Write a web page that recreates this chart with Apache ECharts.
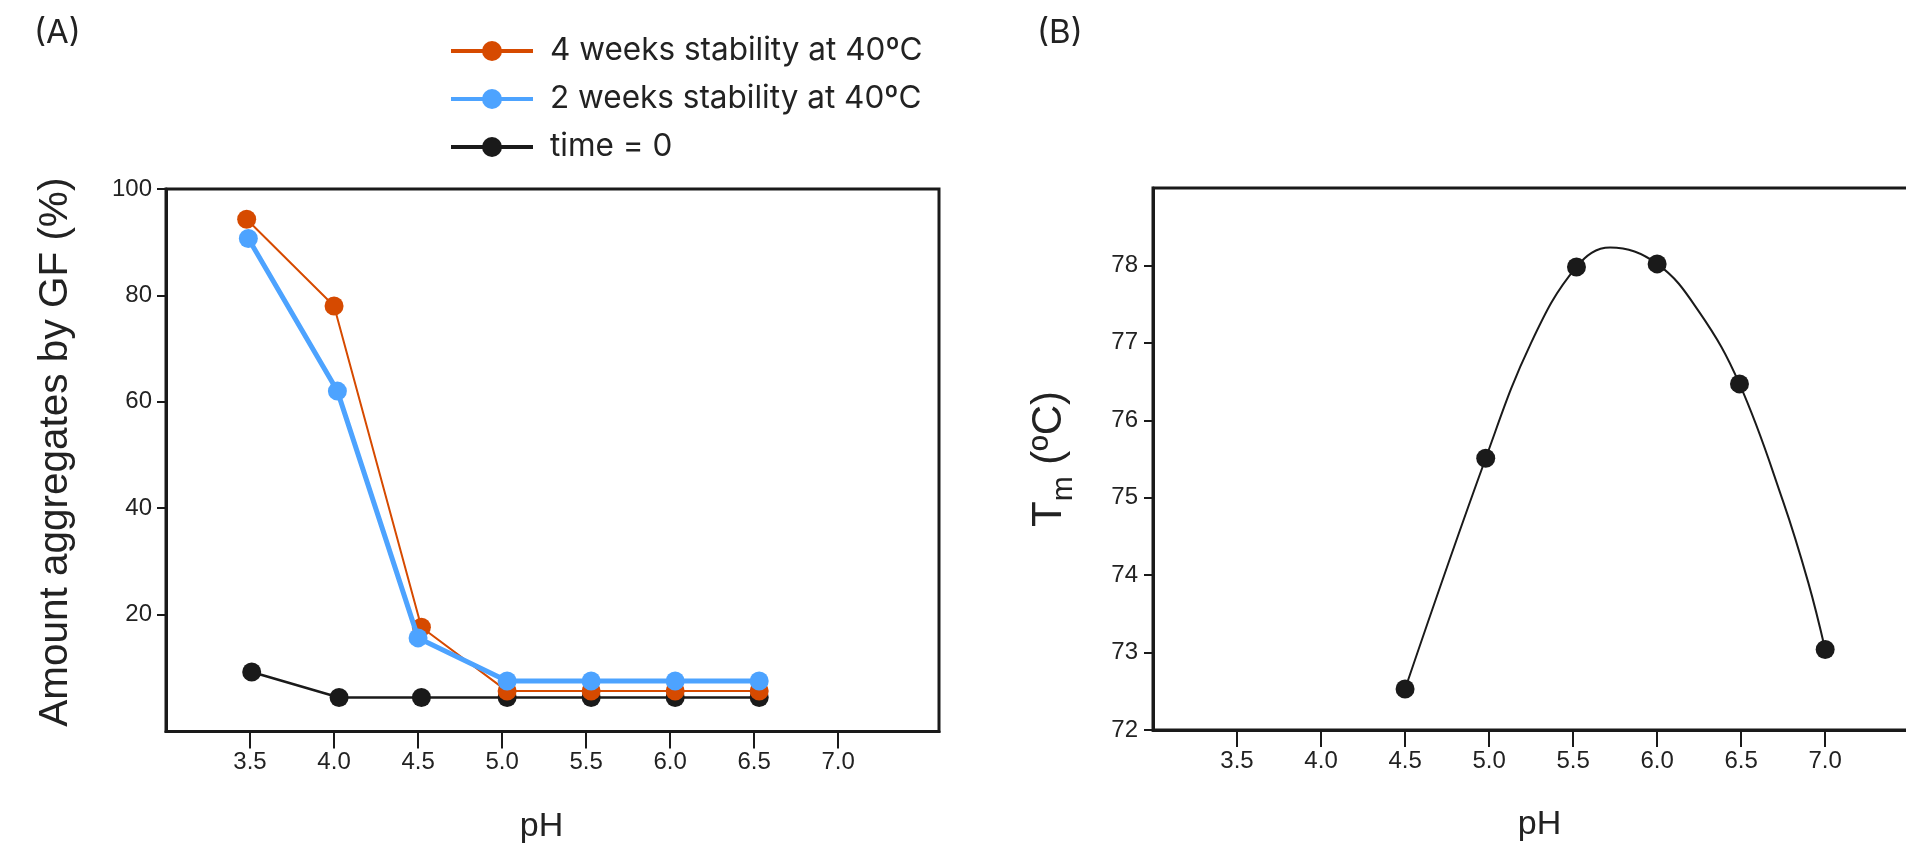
<!DOCTYPE html>
<html><head><meta charset="utf-8">
<script src="https://cdn.jsdelivr.net/npm/echarts@6/dist/echarts.min.js"></script>
<style>html,body{margin:0;padding:0;background:#fff}#c{width:1906px;height:853px}</style>
</head><body><div id="c"></div>
<script>
// ---- data ----
const phTicks = [3.5, 4.0, 4.5, 5.0, 5.5, 6.0, 6.5, 7.0];
const aggTicks = [20, 40, 60, 80, 100];
const tmTicks = [72, 73, 74, 75, 76, 77, 78];

const seriesNames = ['4 weeks stability at 40ºC', '2 weeks stability at 40ºC', 'time = 0'];
const ph4w  = [3.48, 4.00, 4.52, 5.03, 5.53, 6.03, 6.53];
const agg4w = [94.3, 78.0, 17.6, 5.6, 5.6, 5.6, 5.6];
const ph2w  = [3.49, 4.02, 4.50, 5.03, 5.53, 6.03, 6.53];
const agg2w = [90.7, 62.0, 15.6, 7.5, 7.5, 7.5, 7.5];
const ph0   = [3.51, 4.03, 4.52, 5.03, 5.53, 6.03, 6.53];
const agg0  = [9.2, 4.4, 4.4, 4.4, 4.4, 4.4, 4.4];

// panel B: measured Tm points
const phTm = [4.50, 4.98, 5.52, 6.00, 6.49, 7.00];
const tm   = [72.53, 75.51, 77.98, 78.02, 76.47, 73.04];
// panel B: fitted curve
const phCurve = [4.50, 4.98, 5.25, 5.52, 5.72, 6.00, 6.25, 6.49, 6.75, 6.90, 7.00];
const tmCurve = [72.53, 75.51, 77.00, 77.98, 78.23, 78.02, 77.40, 76.47, 74.95, 73.90, 73.04];

// ---- helpers ----
const zip = (xs, ys) => xs.map((x, i) => [x, ys[i]]);
const INK = '#1a1a1a';
const TXT = '#222';
const TICKFONT = 'Liberation Sans';
const LEGFONT = 'Inter';

function xAxisCfg(gridIndex) {
  return {
    type: 'value', gridIndex, min: 3.0, max: 7.6,
    splitLine: { show: false },
    axisLine: { show: true, onZero: false, lineStyle: { color: INK, width: 3 } },
    axisTick: { show: true, customValues: phTicks, length: 17, lineStyle: { color: INK, width: 2 } },
    axisLabel: { customValues: phTicks, formatter: v => v.toFixed(1), fontSize: 24, color: TXT, margin: 19, fontFamily: TICKFONT },
    name: 'pH', nameLocation: 'middle', nameGap: 78,
    nameTextStyle: { fontSize: 34, color: TXT, fontFamily: TICKFONT, padding: gridIndex === 0 ? [0, 22, 0, 0] : 0 }
  };
}

const chart = echarts.init(document.getElementById('c'), null, { renderer: 'canvas' });
chart.setOption({
  backgroundColor: '#fff',
  animation: false,
  title: [
    { text: '(A)', left: 29, top: 12, textStyle: { fontSize: 33, fontWeight: 'normal', color: TXT, fontFamily: LEGFONT } },
    { text: '(B)', left: 1032, top: 12, textStyle: { fontSize: 33, fontWeight: 'normal', color: TXT, fontFamily: LEGFONT } }
  ],
  legend: {
    data: seriesNames,
    orient: 'vertical', left: 449, top: 33,
    itemWidth: 82, itemHeight: 25, itemGap: 12, padding: 0,
    lineStyle: { width: 4 },
    textStyle: { fontSize: 31.5, color: TXT, fontFamily: LEGFONT, lineHeight: 36, padding: [0, 0, 0, 12] }
  },
  grid: [
    { left: 166, top: 189, width: 773, height: 542.5, show: true, borderColor: INK, borderWidth: 3, containLabel: false, outerBoundsMode: 'none' },
    { left: 1153, top: 188, width: 773, height: 542, show: true, borderColor: INK, borderWidth: 3, containLabel: false, outerBoundsMode: 'none' }
  ],
  xAxis: [xAxisCfg(0), xAxisCfg(1)],
  yAxis: [
    {
      type: 'value', gridIndex: 0, min: -2, max: 100,
      splitLine: { show: false },
      axisLine: { show: true, onZero: false, lineStyle: { color: INK, width: 3 } },
      axisTick: { show: true, customValues: aggTicks, length: 9, lineStyle: { color: INK, width: 2 } },
      axisLabel: { customValues: aggTicks, fontSize: 24, color: TXT, margin: 14, fontFamily: TICKFONT },
      name: 'Amount aggregates by GF (%)', nameLocation: 'middle', nameGap: 90, nameRotate: 90,
      nameTextStyle: { fontSize: 40.5, color: TXT, fontFamily: TICKFONT, padding: [0, 0, 0, 16] }
    },
    {
      type: 'value', gridIndex: 1, min: 72, max: 79,
      splitLine: { show: false },
      axisLine: { show: true, onZero: false, lineStyle: { color: INK, width: 3 } },
      axisTick: { show: true, customValues: tmTicks, length: 9, lineStyle: { color: INK, width: 2 } },
      axisLabel: { customValues: tmTicks, fontSize: 24, color: TXT, margin: 15, fontFamily: TICKFONT },
      name: '{t|T}{m|m}{n| (ºC)}', nameLocation: 'middle', nameGap: 74, nameRotate: 90,
      nameTextStyle: {
        color: TXT, fontFamily: TICKFONT,
        rich: {
          t: { fontSize: 42, fontFamily: TICKFONT, color: TXT, lineHeight: 60, verticalAlign: 'middle' },
          m: { fontSize: 30, fontFamily: TICKFONT, color: TXT, lineHeight: 60, verticalAlign: 'bottom' },
          n: { fontSize: 42, fontFamily: TICKFONT, color: TXT, lineHeight: 60, verticalAlign: 'middle' }
        }
      }
    }
  ],
  series: [
    {
      name: seriesNames[2], type: 'line', xAxisIndex: 0, yAxisIndex: 0,
      data: zip(ph0, agg0), symbol: 'circle', symbolSize: 19,
      lineStyle: { color: INK, width: 2.5 }, itemStyle: { color: INK }, z: 2
    },
    {
      name: seriesNames[0], type: 'line', xAxisIndex: 0, yAxisIndex: 0,
      data: zip(ph4w, agg4w), symbol: 'circle', symbolSize: 19,
      lineStyle: { color: '#d64a00', width: 2 }, itemStyle: { color: '#d64a00' }, z: 3
    },
    {
      name: seriesNames[1], type: 'line', xAxisIndex: 0, yAxisIndex: 0,
      data: zip(ph2w, agg2w), symbol: 'circle', symbolSize: 19,
      lineStyle: { color: '#4da3ff', width: 5 }, itemStyle: { color: '#4da3ff' }, z: 4
    },
    {
      name: 'Tm fit', type: 'line', xAxisIndex: 1, yAxisIndex: 1,
      data: zip(phCurve, tmCurve), showSymbol: false, symbol: 'none', smooth: 0.4,
      lineStyle: { color: INK, width: 2 }, z: 2
    },
    {
      name: 'Tm', type: 'scatter', xAxisIndex: 1, yAxisIndex: 1,
      data: zip(phTm, tm), symbol: 'circle', symbolSize: 19,
      itemStyle: { color: INK, opacity: 1 }, z: 3
    }
  ]
});
</script>
</body></html>
